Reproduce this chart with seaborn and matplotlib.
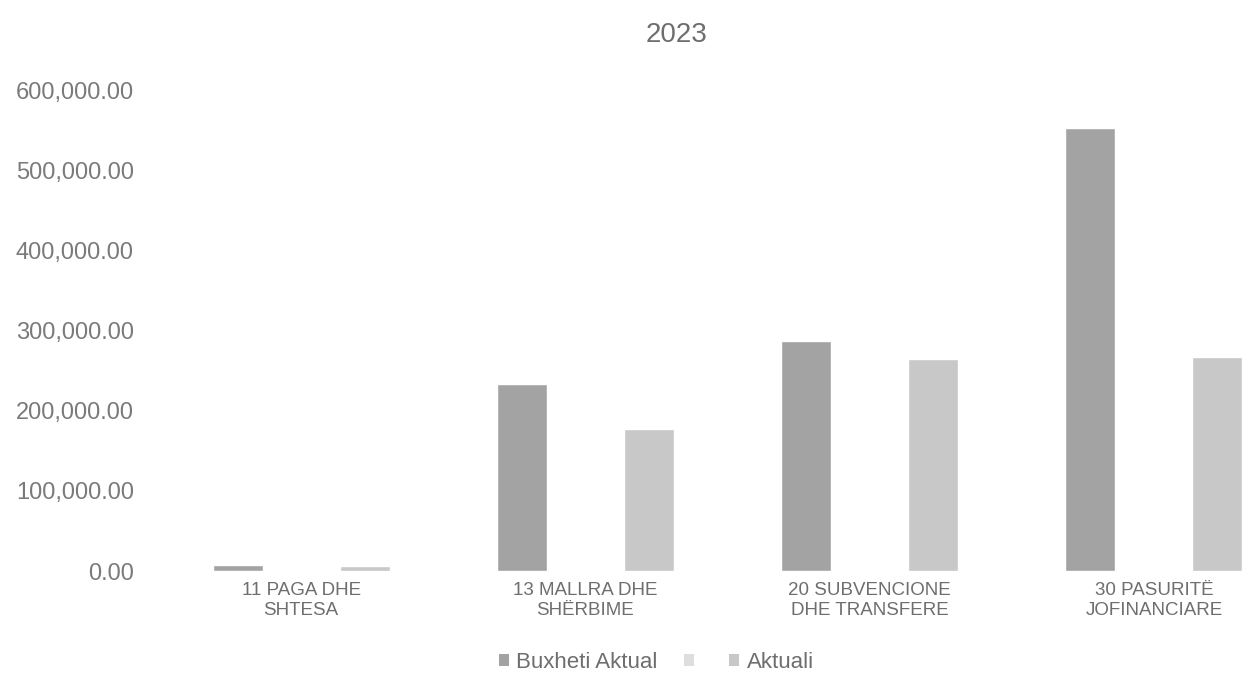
import matplotlib
matplotlib.use("Agg")
import matplotlib.pyplot as plt
import matplotlib.patches as mpatches
from matplotlib.ticker import FuncFormatter
import pandas as pd
import seaborn as sns

# te dhenat e lexuara nga grafiku
categories = ["11 PAGA DHE\nSHTESA", "13 MALLRA DHE\nSHËRBIME",
              "20 SUBVENCIONE\nDHE TRANSFERE", "30 PASURITË\nJOFINANCIARE"]
series_names = ["Buxheti Aktual", " ", "Aktuali"]
buxheti_aktual = [7000, 234000, 287000, 554000]
seria_bosh = [0, 0, 0, 0]
aktuali = [6000, 178000, 265000, 267000]
y_ticks = [0, 100000, 200000, 300000, 400000, 500000, 600000]
title = "2023"

colors = {"Buxheti Aktual": "#a3a3a3", " ": "#dedede", "Aktuali": "#c8c8c8"}
text_color = "#6e6e6e"

rows = []
for name, vals in zip(series_names, [buxheti_aktual, seria_bosh, aktuali]):
    for cat, v in zip(categories, vals):
        rows.append({"Kategoria": cat, "Seria": name, "Vlera": v})
df = pd.DataFrame(rows)

sns.set_theme(style="white")
plt.rcParams["font.family"] = ["Liberation Sans", "DejaVu Sans"]

fig = plt.figure(figsize=(12.5, 6.86), dpi=100)
ax = fig.add_axes([159 / 1250, (686 - 571) / 686, 1137 / 1250, 480 / 686])

sns.barplot(data=df, x="Kategoria", y="Vlera", hue="Seria",
            order=categories, hue_order=series_names, palette=colors,
            width=0.67, gap=0.21, saturation=1, errorbar=None,
            legend=False, ax=ax)

ax.set_xlim(-0.5, 3.5)
ax.set_ylim(0, 600000)
ax.set_yticks(y_ticks)
ax.yaxis.set_major_formatter(FuncFormatter(lambda v, p: f"{v:,.2f}"))
ax.set_xlabel("")
ax.set_ylabel("")
ax.grid(False)
sns.despine(ax=ax, left=True, bottom=True)
ax.tick_params(axis="y", length=0, pad=18, labelsize=17, labelcolor="#7a7a7a")
ax.tick_params(axis="x", length=0, pad=8, labelsize=13.5, labelcolor=text_color)
for lbl in ax.get_xticklabels():
    lbl.set_linespacing(1.25)

handles = [mpatches.Patch(facecolor=colors[n], edgecolor="none") for n in series_names]
legend_labels = [n.strip() for n in series_names]
fig.legend(handles, legend_labels, loc="center", bbox_to_anchor=(0.525, 0.034),
           ncol=3, frameon=False, fontsize=16, handlelength=0.45, handleheight=0.45,
           handletextpad=0.35, columnspacing=1.2, labelcolor=text_color)

fig.text(0.541, 1 - 35 / 686, title, ha="center", va="center",
         fontsize=20, color=text_color)

plt.savefig("out.png", dpi=100)
plt.close()
